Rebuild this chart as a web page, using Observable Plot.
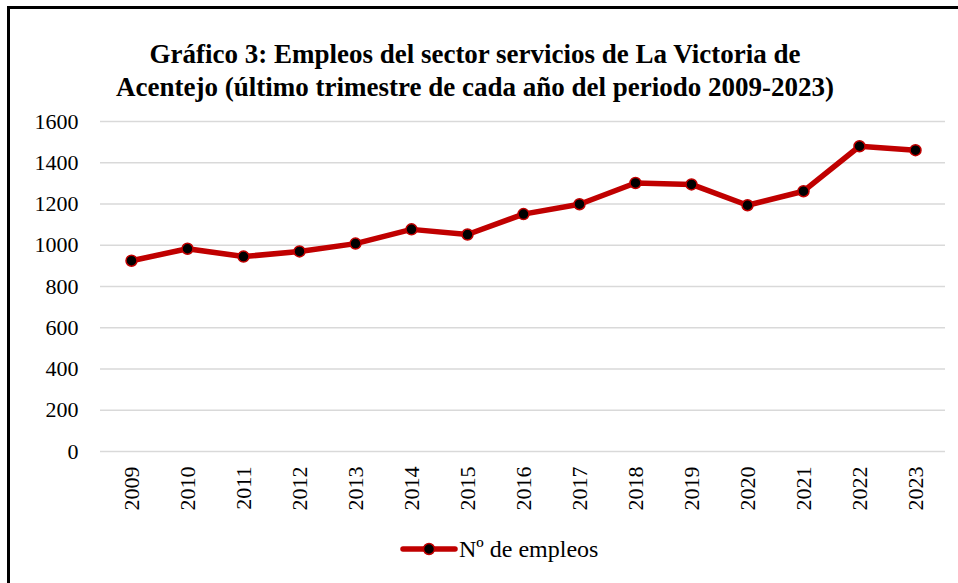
<!DOCTYPE html>
<html>
<head>
<meta charset="utf-8">
<script src="https://cdn.jsdelivr.net/npm/d3@7"></script>
<script src="https://cdn.jsdelivr.net/npm/@observablehq/plot@0.6"></script>
<style>
  html, body { margin: 0; padding: 0; background: #fff; }
  #wrap { position: relative; width: 958px; height: 583px; overflow: hidden; background: #fff; }
  #frame { position: absolute; left: 7px; top: 6px; right: -10px; bottom: -10px; border-left: 3px solid #000; border-top: 3px solid #000; }
  #title { position: absolute; left: 0; width: 950px; top: 38px; text-align: center; font-family: 'Liberation Serif', 'Times New Roman', serif; font-weight: bold; font-size: 27px; line-height: 33px; color: #000; }
  #chart { position: absolute; left: 0; top: 0; }
  #legend { position: absolute; left: 400px; top: 535px; height: 28px; display: flex; align-items: center; font-family: 'Liberation Serif', 'Times New Roman', serif; font-size: 24px; color: #000; }
</style>
</head>
<body>
<div id="wrap">
  <div id="frame"></div>
  <div id="chart"></div>
  <div id="title">Gráfico 3: Empleos del sector servicios de La Victoria de<br>Acentejo (último trimestre de cada año del periodo 2009-2023)</div>
  <div id="legend"></div>
</div>
<script>
const years = ["2009","2010","2011","2012","2013","2014","2015","2016","2017","2018","2019","2020","2021","2022","2023"];
const empleos = [925, 983, 945, 970, 1008, 1077, 1052, 1151, 1199, 1302, 1295, 1194, 1262, 1480, 1461];
const yTicks = [0, 200, 400, 600, 800, 1000, 1200, 1400, 1600];
const seriesName = "Nº de empleos";

const data = years.map((y, i) => ({year: y, value: empleos[i]}));
const red = "#C00000";

const chart = Plot.plot({
  width: 958,
  height: 530,
  marginTop: 121,
  marginBottom: 79,
  marginLeft: 100,
  marginRight: 13,
  style: {fontFamily: "'Liberation Serif', 'Times New Roman', serif", fontSize: "22px", color: "#000", background: "transparent"},
  x: {type: "point", domain: years, padding: 0.5, label: null},
  y: {domain: [0, 1600], label: null},
  marks: [
    Plot.gridY(yTicks, {stroke: "#d9d9d9", strokeWidth: 1.6, strokeOpacity: 1}),
    Plot.axisY(yTicks, {tickSize: 0, tickPadding: 22, fontSize: 22, tickFormat: "d", label: null}),
    Plot.axisX(years, {tickSize: 0, tickPadding: 15, tickRotate: -90, fontSize: 22, label: null}),
    Plot.line(data, {x: "year", y: "value", stroke: red, strokeWidth: 5.5, strokeLinejoin: "round"}),
    Plot.dot(data, {x: "year", y: "value", r: 5.5, fill: "#000", stroke: red, strokeWidth: 1.5})
  ]
});
document.getElementById("chart").appendChild(chart);

// Legend
const lg = d3.select("#legend");
const sw = lg.append("svg").attr("width", 58).attr("height", 16).style("margin-right", "1px");
sw.append("line").attr("x1", 3).attr("x2", 55).attr("y1", 8).attr("y2", 8).attr("stroke", red).attr("stroke-width", 5.5).attr("stroke-linecap", "round");
sw.append("circle").attr("cx", 29).attr("cy", 8).attr("r", 5.5).attr("fill", "#000").attr("stroke", red).attr("stroke-width", 1.5);
lg.append("span").text(seriesName);
</script>
</body>
</html>
